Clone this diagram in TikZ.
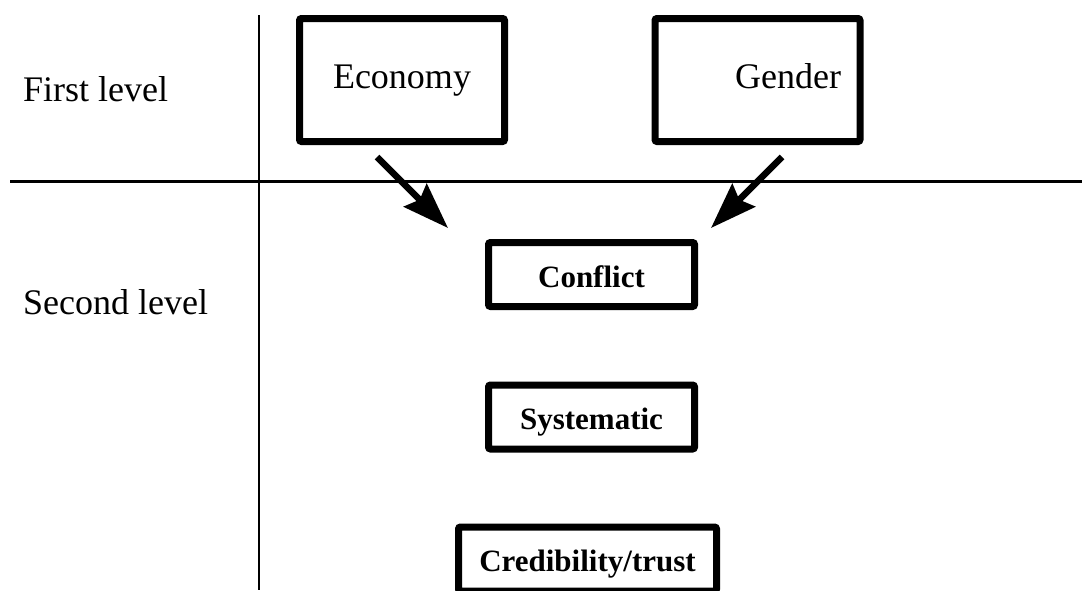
\documentclass[tikz,border=0pt]{standalone}
\usepackage{fontspec}
\setmainfont{Liberation Serif}
\usetikzlibrary{arrows.meta}
\begin{document}
\begin{tikzpicture}[x=1pt,y=-1pt,
  bigbox/.style={draw,line width=7pt,rounded corners=2pt,minimum width=205pt,minimum height=123pt,
    font=\fontsize{36}{40}\selectfont,text height=24pt,text depth=8pt},
  smallbox/.style={draw,line width=7pt,rounded corners=2pt,minimum height=64pt,
    font=\fontsize{31}{36}\selectfont\bfseries,text height=25pt,text depth=0pt},
  levellabel/.style={anchor=base west,inner sep=0pt,font=\fontsize{36}{40}\selectfont},
  arr/.style={line width=6.5pt,-{Stealth[length=46pt,width=32pt,inset=6pt]}}]
\useasboundingbox (0,0) rectangle (1082,590);
\clip (0,0) rectangle (1082,590);
\fill[white] (0,0) rectangle (1082,590);

% level dividers
\draw[line width=2pt] (259,15) -- (259,590);
\draw[line width=3pt] (10,181) -- (1082,181);

% level labels
\node[levellabel] (first) at (23,101) {First level};
\node[levellabel] (second) at (23,314) {Second level};

% first-level factors
\node[bigbox] (eco) at (402,80) {Economy};
\node[bigbox,text width=167pt,align=right,inner xsep=18.5pt] (gen) at (757.5,80) {Gender};

% second-level factors
\node[smallbox,minimum width=206pt] (conf) at (591.5,274.5) {Conflict};
\node[smallbox,minimum width=206pt] (sys) at (591.5,417) {Systematic};
\node[smallbox,minimum width=258pt] (cred) at (587.5,559) {Credibility/trust};

% influences
\draw[arr] ([shift={(-25,12)}]eco.south) -- ([shift={(-37,-11)}]conf.north west);
\draw[arr] ([shift={(24.5,12)}]gen.south) -- ([shift={(13,-11)}]conf.north east);
\end{tikzpicture}
\end{document}
